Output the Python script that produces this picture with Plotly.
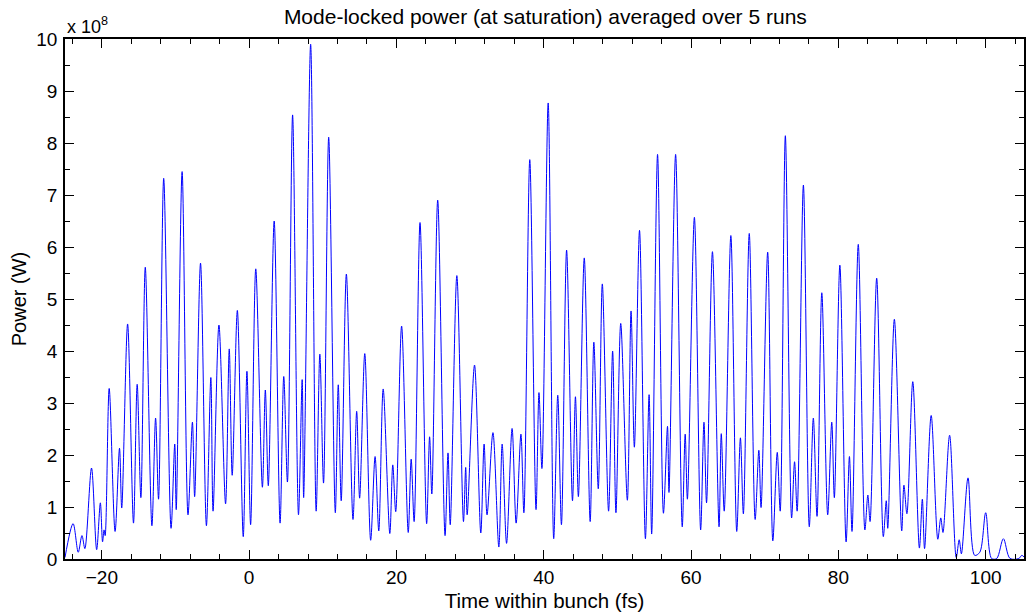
import plotly.graph_objects as go

# Time within bunch (fs) and mode-locked power (units of 1e8 W)
time_fs = [
    -25.0, -23.9, -23.2, -22.7, -22.3, -21.4, -20.7, -20.2, -19.9, -19.7, -19.55, -19.0,
    -18.2, -17.6, -17.3, -16.5, -15.7, -15.2, -14.7, -14.1, -13.2, -12.7, -12.3, -11.6,
    -10.6, -10.1, -9.9, -9.1, -8.3, -7.7, -7.4, -6.6, -5.8, -5.2, -4.9, -4.1,
    -3.2, -2.7, -2.3, -1.6, -0.8, -0.3, 0.2, 0.9, 1.8, 2.2, 2.6, 3.4,
    4.2, 4.7, 5.2, 5.9, 6.7, 7.2, 7.4, 8.35, 9.1, 9.6, 10.1, 10.8,
    11.7, 12.1, 12.5, 13.2, 14.1, 14.6, 15.0, 15.7, 16.5, 17.1, 17.6, 18.2,
    19.1, 19.5, 19.9, 20.7, 21.6, 22.0, 22.4, 23.2, 24.1, 24.5, 24.8, 25.6,
    26.6, 27.0, 27.3, 28.2, 29.1, 29.4, 29.6, 30.6, 31.45, 31.9, 32.3, 33.1,
    33.9, 34.35, 34.95, 35.7, 36.25, 36.9, 37.3, 38.1, 38.95, 39.35, 39.75, 40.6,
    41.35, 41.9, 42.4, 43.1, 43.9, 44.3, 44.7, 45.5, 46.3, 46.8, 47.4, 47.95,
    48.8, 49.35, 49.8, 50.45, 51.35, 51.85, 52.3, 53.0, 53.8, 54.3, 54.65, 55.45,
    56.25, 56.8, 57.0, 57.9, 58.8, 59.2, 59.5, 60.45, 61.3, 61.75, 62.1, 62.9,
    63.8, 64.1, 64.5, 65.4, 66.2, 66.7, 67.1, 67.9, 68.7, 69.2, 69.5, 70.4,
    71.1, 71.7, 72.1, 72.8, 73.65, 74.05, 74.4, 75.25, 76.05, 76.6, 77.1, 77.75,
    78.55, 79.1, 79.45, 80.2, 81.05, 81.5, 81.85, 82.7, 83.6, 84.0, 84.3, 85.2,
    86.1, 86.5, 86.7, 87.6, 88.6, 88.9, 89.3, 90.1, 91.0, 91.4, 91.7, 92.6,
    93.5, 93.9, 94.2, 95.1, 96.0, 96.4, 96.7, 97.6, 98.5, 99.2, 100.0, 100.8,
    101.5, 102.4, 103.3, 104.5, 104.9, 105.2,
]
power_1e8_W = [
    0.03, 0.68, 0.13, 0.45, 0.20, 1.75, 0.18, 1.08, 0.33, 0.56, 0.45, 3.28,
    0.53, 2.13, 0.98, 4.52, 0.69, 3.36, 1.18, 5.61, 0.64, 2.71, 1.15, 7.32,
    0.59, 2.21, 0.95, 7.45, 0.85, 2.63, 1.20, 5.69, 0.64, 3.49, 0.92, 4.50,
    1.06, 4.04, 1.61, 4.78, 0.43, 3.61, 0.66, 5.58, 1.38, 3.25, 1.41, 6.50,
    0.69, 3.51, 1.48, 8.54, 0.85, 3.45, 1.18, 9.90, 0.92, 3.94, 1.46, 8.11,
    0.89, 3.35, 1.12, 5.48, 0.76, 2.84, 1.17, 3.95, 0.36, 1.97, 0.54, 3.27,
    0.49, 1.81, 0.91, 4.48, 0.51, 1.92, 0.72, 6.47, 0.68, 2.35, 1.25, 6.90,
    0.45, 2.04, 0.66, 5.45, 0.72, 1.76, 0.85, 3.73, 0.50, 2.21, 0.85, 2.43,
    0.23, 2.21, 0.30, 2.51, 0.69, 2.40, 0.89, 7.68, 0.95, 3.20, 1.74, 8.77,
    0.39, 3.15, 0.66, 5.94, 1.12, 3.12, 1.20, 5.79, 0.72, 4.17, 1.35, 5.29,
    0.92, 4.00, 0.89, 4.53, 1.13, 4.77, 2.15, 6.32, 0.39, 3.16, 0.48, 7.78,
    0.88, 2.55, 1.28, 7.78, 0.62, 2.40, 1.15, 6.57, 0.56, 2.63, 1.08, 5.91,
    0.62, 2.41, 0.92, 6.22, 0.53, 2.33, 0.87, 6.26, 0.76, 2.09, 0.99, 5.90,
    0.35, 2.05, 0.92, 8.14, 0.79, 1.87, 0.92, 7.19, 0.62, 2.71, 0.82, 5.12,
    0.85, 2.63, 1.18, 5.65, 0.33, 1.97, 0.53, 6.05, 0.56, 1.23, 0.72, 5.40,
    0.43, 1.12, 0.59, 4.61, 0.54, 1.42, 0.87, 3.41, 0.21, 1.15, 0.20, 2.76,
    0.38, 0.79, 0.51, 2.38, 0.03, 0.37, 0.10, 1.56, 0.07, 0.13, 0.89, 0.01,
    0.01, 0.39, 0.01, 0.01, 0.07, 0.04,
]

x_ticks = [-20, 0, 20, 40, 60, 80, 100]
y_ticks = [0, 1, 2, 3, 4, 5, 6, 7, 8, 9, 10]

FONT = "Liberation Sans, Arial, sans-serif"

fig = go.Figure()
fig.add_trace(go.Scatter(
    x=time_fs, y=power_1e8_W, mode="lines",
    line=dict(color="#0000ff", width=1, shape="spline", smoothing=0.9),
    showlegend=False, hoverinfo="skip",
))

axis_common = dict(
    showline=True, linecolor="black", linewidth=1.5, mirror="ticks",
    ticks="inside", ticklen=9, tickwidth=1, tickcolor="black",
    showgrid=False, zeroline=False,
    tickfont=dict(family=FONT, size=19, color="black"),
)

fig.update_layout(
    width=1028, height=612,
    margin=dict(l=65, r=2, t=39, b=49),
    paper_bgcolor="white", plot_bgcolor="white",
    font=dict(family=FONT, color="black"),
    title=dict(
        text="Mode-locked power (at saturation) averaged over 5 runs",
        x=0.5305, xanchor="center", y=1 - 17 / 612, yanchor="middle",
        yref="container", font=dict(family=FONT, size=21, color="black"),
    ),
    xaxis=dict(
        range=[-25, 105.2], tickvals=x_ticks,
        minor=dict(dtick=4, tick0=0, ticks="inside", ticklen=5, tickcolor="black", tickwidth=1),
        title=dict(text="Time within bunch (fs)", standoff=8,
                   font=dict(family=FONT, size=20.5, color="black")),
        **axis_common,
    ),
    yaxis=dict(
        range=[0, 10], tickvals=y_ticks,
        minor=dict(dtick=0.5, tick0=0, ticks="inside", ticklen=5, tickcolor="black", tickwidth=1),
        title=dict(text="Power (W)", standoff=4,
                   font=dict(family=FONT, size=20, color="black")),
        ticklabelstandoff=2,
        **axis_common,
    ),
    annotations=[dict(
        text="x 10<sup>8</sup>", xref="paper", yref="paper", x=0, y=1,
        xanchor="left", yanchor="bottom", showarrow=False, yshift=0,
        font=dict(family=FONT, size=18, color="black"),
    )],
)

fig.write_html("out.html")
